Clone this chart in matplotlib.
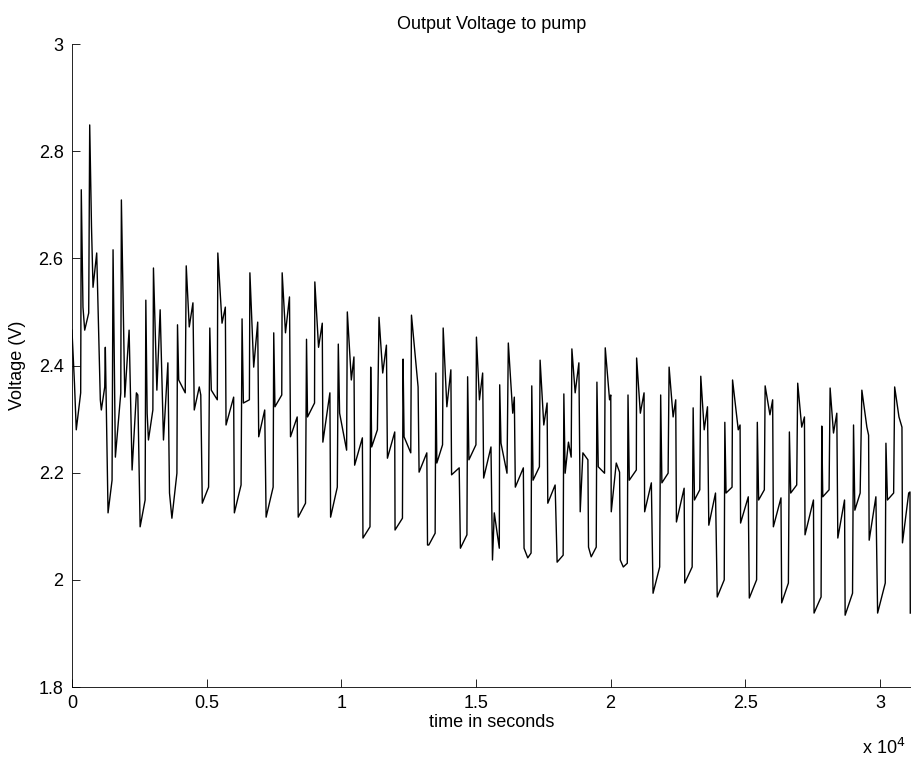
import matplotlib
matplotlib.use('Agg')
import matplotlib.pyplot as plt

plt.rcParams['font.family'] = ['Liberation Sans', 'DejaVu Sans']

# time (s) and output voltage (V)
time_s = [
	0, 93, 160, 324, 346, 409, 473, 622, 659, 726, 782, 919, 1053, 1091, 1217, 1239,
	1340, 1489, 1526, 1612, 1813, 1835, 1898, 1962, 2122, 2233, 2393, 2445, 2531,
	2717, 2743, 2792, 2840, 3004, 3026, 3153, 3275, 3398, 3562, 3622, 3711, 3897,
	3919, 3964, 4206, 4243, 4355, 4492, 4541, 4727, 4783, 4839, 5073,
	5118, 5174, 5397, 5416, 5572, 5695, 5721, 6004, 6030, 6279,
	6316, 6365, 6588, 6607, 6748, 6897, 6934, 7157, 7209, 7470,
	7492, 7537, 7790, 7805, 7928, 8077, 8114, 8363, 8401, 8672,
	8709, 8747, 9007, 9018, 9156, 9294, 9316, 9577, 9603, 9852,
	9889, 9938, 10198, 10224, 10373, 10470, 10496, 10783, 10805, 11066,
	11092, 11129, 11341, 11401, 11538, 11676, 11713, 11985, 11996, 12271,
	12294, 12331, 12580, 12606, 12852, 12889, 13176, 13202, 13250, 13485,
	13511, 13548, 13760, 13783, 13920, 14069, 14095, 14378, 14423, 14665,
	14691, 14739, 15000, 15018, 15130, 15249, 15286, 15558, 15614, 15681, 15867,
	15882, 15930, 16153, 16202, 16366, 16425, 16462, 16760, 16786, 16924, 17047,
	17073, 17121, 17356, 17382, 17519, 17642, 17668, 17940, 18014, 18238,
	18264, 18312, 18435, 18536, 18562, 18684, 18822, 18871, 18971, 19157, 19180, 19280, 19466,
	19492, 19541, 19775, 19801, 19961, 20006, 20024, 20210, 20333, 20359, 20471, 20620,
	20646, 20694, 20955, 20966, 21104, 21242, 21264, 21513, 21576, 21822,
	21859, 21904, 22135, 22172, 22321, 22418, 22444, 22730, 22753, 23028,
	23065, 23114, 23311, 23348, 23475, 23597, 23646, 23895, 23959, 24219,
	24241, 24286, 24509, 24528, 24740, 24807, 24826, 25112, 25150, 25421,
	25447, 25496, 25708, 25738, 25916, 26017, 26043, 26326, 26352, 26601,
	26638, 26687, 26910, 26947, 27096, 27197, 27219, 27532, 27554, 27815,
	27841, 27878, 28112, 28150, 28276, 28399, 28436, 28686, 28708, 28983,
	29020, 29069, 29266, 29329, 29515, 29579, 29601, 29850, 29914, 30198,
	30223, 30279, 30509, 30547, 30707, 30818, 30837, 31068, 31116, 31127,
]
voltage = [
	2.466, 2.367, 2.280, 2.349, 2.728, 2.509, 2.466, 2.498, 2.849, 2.658, 2.546, 2.610, 2.336, 2.317, 2.360, 2.434,
	2.125, 2.186, 2.616, 2.229, 2.349, 2.709, 2.522, 2.341, 2.466, 2.205, 2.349, 2.345, 2.099,
	2.149, 2.522, 2.311, 2.261, 2.317, 2.582, 2.354, 2.504, 2.261, 2.405, 2.162, 2.115, 2.199,
	2.476, 2.373, 2.349, 2.586, 2.472, 2.517, 2.317, 2.360, 2.345, 2.143, 2.173,
	2.470, 2.354, 2.336, 2.610, 2.479, 2.509, 2.289, 2.341, 2.125, 2.177,
	2.487, 2.330, 2.336, 2.573, 2.397, 2.481, 2.267, 2.317, 2.117, 2.173,
	2.461, 2.323, 2.345, 2.573, 2.461, 2.528, 2.267, 2.304, 2.117, 2.143,
	2.449, 2.304, 2.330, 2.556, 2.434, 2.479, 2.257, 2.349, 2.117, 2.173,
	2.440, 2.311, 2.242, 2.500, 2.373, 2.416, 2.214, 2.265, 2.078, 2.099,
	2.397, 2.248, 2.280, 2.490, 2.386, 2.438, 2.227, 2.276, 2.093, 2.115,
	2.412, 2.267, 2.237, 2.494, 2.360, 2.201, 2.237, 2.065, 2.065, 2.087,
	2.386, 2.218, 2.252, 2.470, 2.323, 2.392, 2.196, 2.209, 2.059, 2.084,
	2.379, 2.224, 2.252, 2.453, 2.336, 2.386, 2.190, 2.248, 2.037, 2.125, 2.059,
	2.364, 2.255, 2.199, 2.442, 2.311, 2.341, 2.173, 2.209, 2.059, 2.041, 2.050,
	2.362, 2.186, 2.211, 2.410, 2.289, 2.330, 2.143, 2.177, 2.033, 2.046,
	2.347, 2.199, 2.257, 2.229, 2.431, 2.349, 2.405, 2.127, 2.237, 2.224, 2.061, 2.043, 2.061,
	2.369, 2.211, 2.199, 2.433, 2.336, 2.345, 2.127, 2.218, 2.201, 2.037, 2.024, 2.031,
	2.345, 2.186, 2.205, 2.414, 2.311, 2.349, 2.127, 2.181, 1.975, 2.024,
	2.345, 2.181, 2.199, 2.397, 2.304, 2.336, 2.108, 2.171, 1.994, 2.024,
	2.321, 2.149, 2.168, 2.380, 2.280, 2.323, 2.102, 2.162, 1.968, 2.000,
	2.294, 2.162, 2.173, 2.373, 2.280, 2.289, 2.106, 2.155, 1.966, 2.000,
	2.294, 2.149, 2.168, 2.362, 2.308, 2.336, 2.099, 2.153, 1.957, 1.994,
	2.276, 2.162, 2.177, 2.367, 2.285, 2.304, 2.084, 2.149, 1.938, 1.968,
	2.287, 2.155, 2.168, 2.358, 2.274, 2.311, 2.078, 2.149, 1.934, 1.975,
	2.289, 2.130, 2.162, 2.354, 2.285, 2.270, 2.074, 2.155, 1.938, 1.994,
	2.255, 2.149, 2.162, 2.360, 2.304, 2.285, 2.069, 2.162, 2.164, 1.938,
]

x_ticks = [0, 5000, 10000, 15000, 20000, 25000, 30000]
x_tick_labels = ['0', '0.5', '1', '1.5', '2', '2.5', '3']
y_ticks = [1.8, 2.0, 2.2, 2.4, 2.6, 2.8, 3.0]
y_tick_labels = ['1.8', '2', '2.2', '2.4', '2.6', '2.8', '3']

fig = plt.figure(figsize=(9.12, 7.63), dpi=100)
ax = fig.add_axes([0.0789, 0.0996, 0.9196, 0.8427])

ax.plot(time_s, voltage, color='black', linewidth=1.0)

ax.set_xlim(0, 31140)
ax.set_ylim(1.8, 3.0)
ax.set_xticks(x_ticks)
ax.set_xticklabels(x_tick_labels)
ax.set_yticks(y_ticks)
ax.set_yticklabels(y_tick_labels)

ax.spines['top'].set_visible(False)
ax.spines['right'].set_visible(False)
for side in ('left', 'bottom'):
	ax.spines[side].set_linewidth(0.6)
ax.tick_params(direction='in', length=6, width=0.6, labelsize=13, pad=6)

ax.set_title('Output Voltage to pump', fontsize=13, pad=11)
ax.set_xlabel('time in seconds', fontsize=13, labelpad=1)
ax.set_ylabel('Voltage (V)', fontsize=13, labelpad=9)
ax.text(0.994, -0.079, r'x 10$^4$', transform=ax.transAxes, ha='right', va='top', fontsize=13)

fig.savefig('out.png', dpi=100)
